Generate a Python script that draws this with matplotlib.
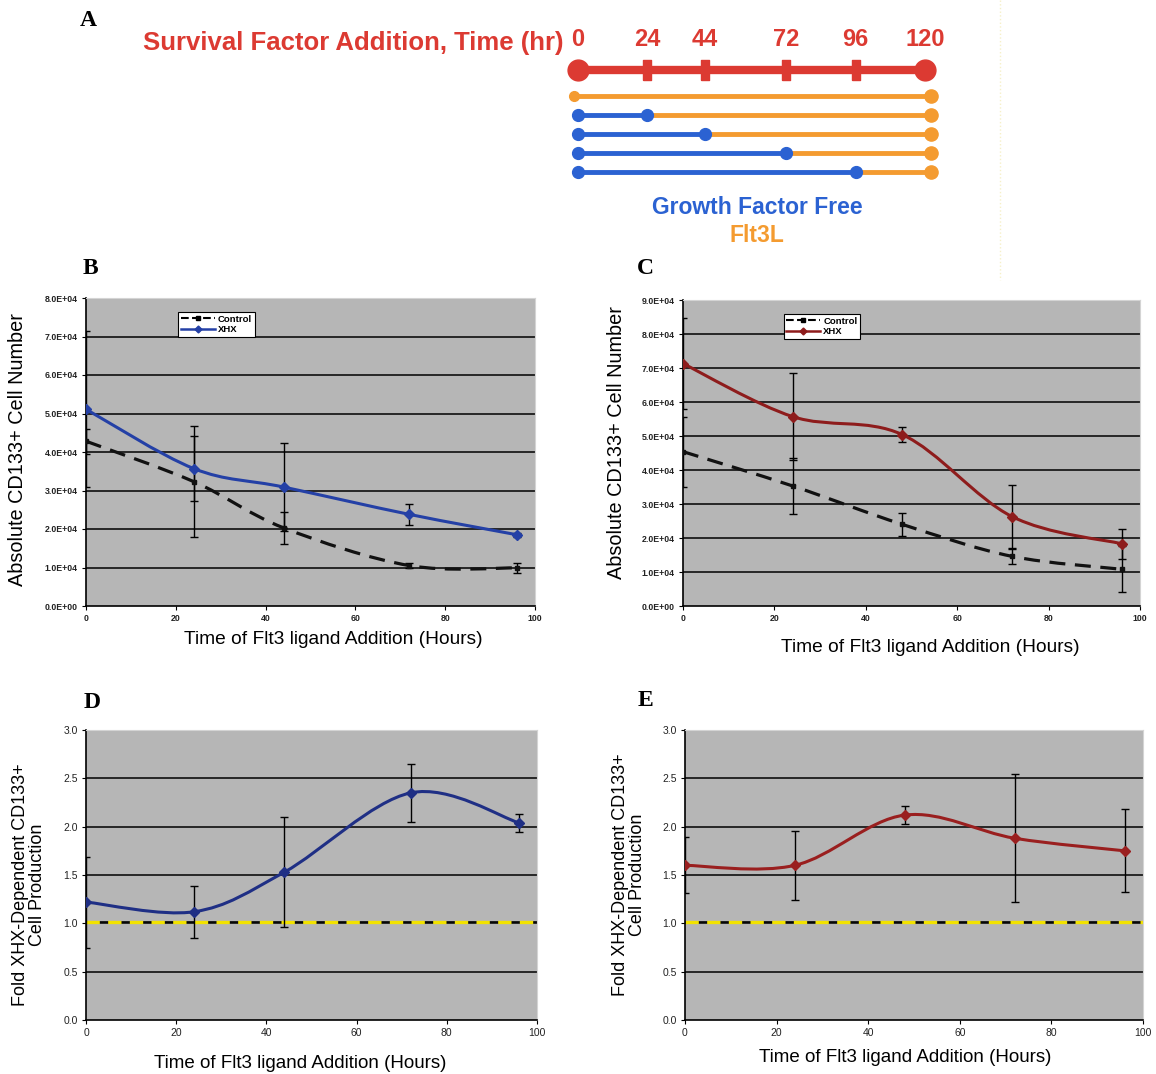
import numpy as np
import matplotlib
matplotlib.use("Agg")
import matplotlib.pyplot as plt
from matplotlib.path import Path
from matplotlib.patches import PathPatch
from matplotlib.lines import Line2D

plt.rcParams['font.family'] = ['Liberation Sans', 'DejaVu Sans']

# ---- panel A: schedule
sched_times = [0, 24, 44, 72, 96, 120]
gf_free_until = [0, 24, 44, 72, 96]

# ---- panel B
hours_b = [0, 24, 44, 72, 96]
xhx_b = [5.11e4, 3.57e4, 3.09e4, 2.38e4, 1.85e4]
xhx_b_err = [2.03e4, 0.85e4, 1.15e4, 0.28e4, 0.05e4]
ctrl_b = [4.28e4, 3.23e4, 2.03e4, 1.05e4, 0.99e4]
ctrl_b_err = [0.33e4, 1.45e4, 0.42e4, 0.06e4, 0.12e4]

# ---- panel C
hours_c = [0, 24, 48, 72, 96]
xhx_c = [7.13e4, 5.57e4, 5.04e4, 2.63e4, 1.83e4]
xhx_c_err = [1.33e4, 1.29e4, 0.23e4, 0.92e4, 0.44e4]
ctrl_c = [4.54e4, 3.53e4, 2.40e4, 1.46e4, 1.08e4]
ctrl_c_err = [1.03e4, 0.82e4, 0.33e4, 0.22e4, 0.68e4]

# ---- panel D
hours_d = [0, 24, 44, 72, 96]
fold_d = [1.22, 1.12, 1.53, 2.35, 2.04]
fold_d_err = [0.47, 0.27, 0.57, 0.30, 0.09]

# ---- panel E
hours_e = [0, 24, 48, 72, 96]
fold_e = [1.60, 1.60, 2.12, 1.88, 1.75]
fold_e_err = [0.29, 0.36, 0.09, 0.66, 0.43]

RED = '#dc3a32'
ORANGE = '#f49b30'
BLUE = '#2b62d2'
GRAY = '#b6b6b6'

W, H = 1156, 1074
fig = plt.figure(figsize=(W / 100, H / 100), dpi=100)


def add_ax(x0, x1, y0, y1):
    # pixel box, y measured from top
    return fig.add_axes([x0 / W, 1 - y1 / H, (x1 - x0) / W, (y1 - y0) / H])


def ftext(x, y, s, **kw):
    fig.text(x / W, 1 - y / H, s, **kw)


def smooth_path(x, y):
    # excel-like smoothed line through the points (bezier segments)
    P = np.column_stack([x, y]).astype(float)
    n = len(P)
    verts = [P[0]]
    codes = [Path.MOVETO]
    for i in range(n - 1):
        p0 = P[max(i - 1, 0)]
        p1 = P[i]
        p2 = P[i + 1]
        p3 = P[min(i + 2, n - 1)]
        verts += [p1 + (p2 - p0) / 6, p2 - (p3 - p1) / 6, p2]
        codes += [Path.CURVE4] * 3
    return Path(verts, codes)


# ================= panel A
ax_a = fig.add_axes([0, 1 - 280 / H, 1, 280 / H])
px_hr = 347 / 120
ax_a.set_xlim(-578 / px_hr, (W - 578) / px_hr)
ax_a.set_ylim(280, 0)
ax_a.axis('off')

ax_a.plot([sched_times[0], sched_times[-1]], [70, 70], color=RED, lw=6,
          solid_capstyle='butt')
ax_a.plot([sched_times[0], sched_times[-1]], [70, 70], 'o', color=RED, ms=15)
rect = [(-0.4, -1), (0.4, -1), (0.4, 1), (-0.4, 1), (-0.4, -1)]
ax_a.plot(sched_times[1:-1], [70] * 4, ls='none', marker=rect, ms=15,
          color=RED)
for t in sched_times:
    ax_a.text(t, 40, str(t), color=RED, fontsize=17, fontweight='bold',
              ha='center', va='center')
ax_a.text(-5.0, 43, 'Survival Factor Addition, Time (hr)', color=RED,
          fontsize=18.5, fontweight='bold', ha='right', va='center')

for i, t in enumerate(gf_free_until):
    y = 96 + 19 * i
    if t > 0:
        ax_a.plot([0, t], [y, y], color=BLUE, lw=3.5, solid_capstyle='butt')
        ax_a.plot([0, t], [y, y], 'o', color=BLUE, ms=8.5)
    else:
        ax_a.plot([-1.5], [y], 'o', color=ORANGE, ms=7)
    ax_a.plot([t, 120], [y, y], color=ORANGE, lw=3.5, solid_capstyle='butt',
              zorder=1)
    ax_a.plot([122], [y], 'o', color=ORANGE, ms=9.5)

ax_a.text(62, 207, 'Growth Factor Free', color=BLUE, fontsize=16.5,
          fontweight='bold', ha='center', va='center')
ax_a.text(62, 236, 'Flt3L', color=ORANGE, fontsize=16.5,
          fontweight='bold', ha='center', va='center')
fig.add_artist(Line2D([1000 / W, 1000 / W], [1, 1 - 280 / H], color='#f6f0c8',
                      lw=1, ls=':'))

# panel letters
for let, x, y in [('A', 88, 20), ('B', 90, 268), ('C', 645, 268),
                  ('D', 92, 703), ('E', 645, 700)]:
    ftext(x, y, let, family='Liberation Serif', fontweight='bold',
          fontsize=17, ha='center', va='center')


def style(ax, ymax, ystep, tick_fs, ytick_fmt):
    ax.set_facecolor(GRAY)
    ax.set_xlim(0, 100)
    ax.set_ylim(0, ymax)
    ax.set_xticks(range(0, 101, 20))
    ticks = np.arange(0, ymax + ystep / 2, ystep)
    ax.set_yticks(ticks)
    ax.set_yticklabels([ytick_fmt % v for v in ticks])
    for t in ticks[1:-1]:
        ax.axhline(t, color='k', lw=1.1, zorder=1)
    for s in ['top', 'right']:
        ax.spines[s].set_color('#d4d4d4')
        ax.spines[s].set_linewidth(0.8)
    for s in ['left', 'bottom']:
        ax.spines[s].set_color('k')
        ax.spines[s].set_linewidth(1.2)
    ax.tick_params(labelsize=tick_fs, length=3, width=0.8, pad=3,
                   labelcolor='#222222')


def cell_panel(box, hours, xhx, xhx_err, ctrl, ctrl_err, ymax, color,
               leg_anchor):
    ax = add_ax(*box)
    style(ax, ymax, 1e4, 6.3, '%.1E')
    for lab in ax.get_yticklabels() + ax.get_xticklabels():
        lab.set_fontweight('bold')
    ax.errorbar(hours, ctrl, yerr=ctrl_err, fmt='none', ecolor='k',
                elinewidth=1, capsize=3, capthick=1, zorder=3)
    ax.errorbar(hours, xhx, yerr=xhx_err, fmt='none', ecolor='k',
                elinewidth=1, capsize=3, capthick=1, zorder=3)
    ax.add_patch(PathPatch(smooth_path(hours, ctrl), fill=False, ec='#111111',
                           lw=2.3, ls=(0, (5, 3)), zorder=4))
    ax.add_patch(PathPatch(smooth_path(hours, xhx), fill=False, ec=color,
                           lw=2.2, zorder=5))
    ax.plot(hours, ctrl, ls='none', marker='s', ms=3, color='#111111',
            zorder=5)
    ax.plot(hours, xhx, ls='none', marker='D', ms=5, color=color, zorder=6)
    handles = [Line2D([], [], color='k', ls='--', lw=1.5, marker='s', ms=2.5),
               Line2D([], [], color=color, lw=1.8, marker='D', ms=3.5)]
    leg = ax.legend(handles, ['Control', 'XHX'], loc='upper left',
                    bbox_to_anchor=leg_anchor, borderaxespad=0,
                    prop={'size': 6.8, 'weight': 'bold'}, frameon=True,
                    fancybox=False, handlelength=3.6, handletextpad=0.3,
                    borderpad=0.3, labelspacing=0.15)
    leg.get_frame().set_edgecolor('k')
    leg.get_frame().set_linewidth(0.8)
    leg.get_frame().set_facecolor('white')
    leg.get_frame().set_alpha(1)
    return ax


cell_panel((86, 535, 298, 606), hours_b, xhx_b, xhx_b_err, ctrl_b,
           ctrl_b_err, 8e4, '#2440a6', (0.205, 0.955))
cell_panel((683, 1140, 300, 606), hours_c, xhx_c, xhx_c_err, ctrl_c,
           ctrl_c_err, 9e4, '#8e1c1c', (0.22, 0.955))

ftext(18, 450, 'Absolute CD133+ Cell Number', rotation=90, fontsize=14.3,
      ha='center', va='center')
ftext(617, 443, 'Absolute CD133+ Cell Number', rotation=90, fontsize=14.3,
      ha='center', va='center')
ftext(333, 640, 'Time of Flt3 ligand Addition (Hours)', fontsize=13.8,
      ha='center', va='center')
ftext(930, 648, 'Time of Flt3 ligand Addition (Hours)', fontsize=13.8,
      ha='center', va='center')


def fold_panel(box, hours, fold, fold_err, color):
    ax = add_ax(*box)
    style(ax, 3.0, 0.5, 7.5, '%.1f')
    ax.plot([0, 100], [1.01, 1.01], color='k', lw=1.2, zorder=2)
    ax.plot([0, 100], [1.01, 1.01], color='#f2e200', lw=2.4,
            ls=(0, (4, 2.5)), zorder=2)
    ax.errorbar(hours, fold, yerr=fold_err, fmt='none', ecolor='k',
                elinewidth=1, capsize=3, capthick=1, zorder=3)
    ax.add_patch(PathPatch(smooth_path(hours, fold), fill=False, ec=color,
                           lw=2.2, zorder=5))
    ax.plot(hours, fold, ls='none', marker='D', ms=5.5, color=color,
            zorder=6)
    return ax


fold_panel((86, 537, 730, 1020), hours_d, fold_d, fold_d_err, '#1f2f85')
fold_panel((685, 1143, 730, 1020), hours_e, fold_e, fold_e_err, '#9a1f1f')

ftext(29, 885, 'Fold XHX-Dependent CD133+\nCell Production', rotation=90,
      fontsize=13, ha='center', va='center', linespacing=1.05)
ftext(629, 875, 'Fold XHX-Dependent CD133+\nCell Production', rotation=90,
      fontsize=13, ha='center', va='center', linespacing=1.05)
ftext(300, 1063, 'Time of Flt3 ligand Addition (Hours)', fontsize=13.5,
      ha='center', va='center')
ftext(905, 1058, 'Time of Flt3 ligand Addition (Hours)', fontsize=13.5,
      ha='center', va='center')

fig.savefig('out.png', dpi=100, facecolor='white')
